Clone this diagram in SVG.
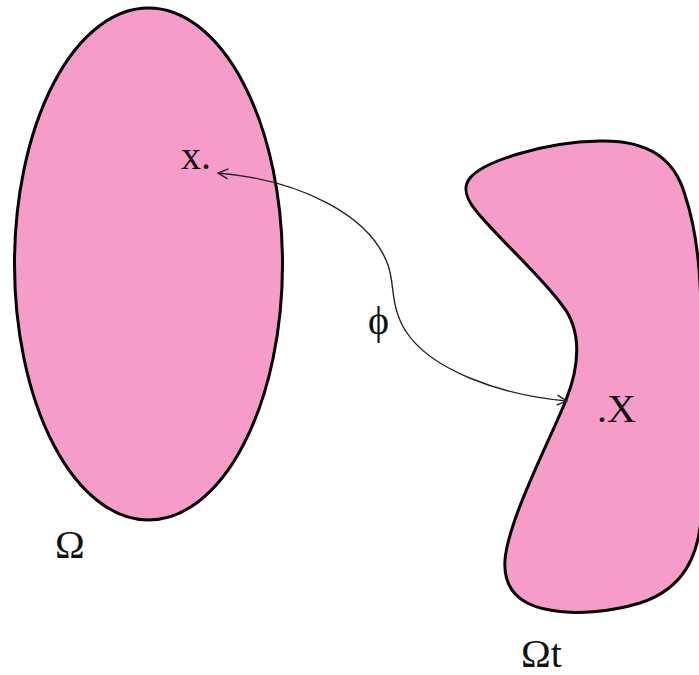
<svg xmlns="http://www.w3.org/2000/svg" width="699" height="675" viewBox="0 0 699 675">
<style>
.shape{fill:#F59DC8;stroke:#000;stroke-width:3}
.conn{fill:none;stroke:#222;stroke-width:1.4}
.lbl{font-family:"Liberation Serif","Times New Roman",serif;font-size:40px;fill:#111}
</style>
<defs>
<marker id="arr" viewBox="0 0 12 12" refX="11" refY="6" markerWidth="12" markerHeight="12" markerUnits="userSpaceOnUse" orient="auto-start-reverse">
<polyline points="1,1 11,6 1,11" fill="none" stroke="#222" stroke-width="1.4"/>
</marker>
</defs>
<rect width="699" height="675" fill="#fff"/>
<g id="omega">
<ellipse class="shape" cx="148.5" cy="264" rx="134" ry="256"/>
<text class="lbl" x="55" y="558">Ω</text>
<text class="lbl" x="181" y="169">x.</text>
</g>
<g id="omega-t">
<path class="shape" d="M 470,178 C 482,163 540,142 600,141 C 650,140 675,160 685,195 C 700,240 702,290 702,380 L 702,500 C 702,560 680,590 640,603 C 610,612 575,615 550,610 C 520,605 503,590 505,560 C 508,520 550,440 566,400 C 580,365 582,330 562,305 C 540,275 500,240 477,212 C 466,199 462,188 470,178 Z"/>
<text class="lbl" x="597" y="422">.X</text>
<text class="lbl" x="521" y="667">Ωt</text>
</g>
<g id="connectors">
<path class="conn" marker-start="url(#arr)" marker-end="url(#arr)" d="M 218,173 C 300,180 370,215 388,265 C 395,285 390,305 405,330 C 430,370 500,395 567,401"/>
<text class="lbl" x="368" y="334">ϕ</text>
</g>
</svg>
